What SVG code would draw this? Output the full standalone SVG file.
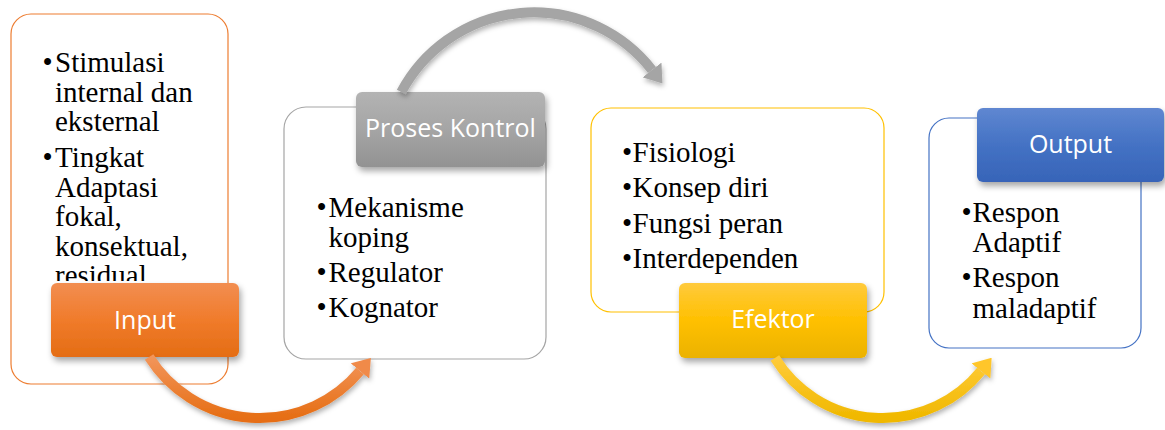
<svg xmlns="http://www.w3.org/2000/svg" width="1165" height="430" viewBox="0 0 1165 430">
  <style>
    .panel { fill: #FFFFFF; stroke-width: 1.2; }
    .body { font-family: "Liberation Serif", "Times New Roman", serif; font-size: 29px; fill: #000000; }
    .lbl { font-family: "Open Sans", "Liberation Sans", sans-serif; font-size: 25px; fill: #FFFFFF; text-anchor: middle; }
    .arc { fill: none; stroke-width: 10; }
  </style>
  <defs>
    <filter id="shadow" x="-20%" y="-20%" width="150%" height="160%">
      <feDropShadow dx="2" dy="4" stdDeviation="3" flood-color="#000000" flood-opacity="0.35"/>
    </filter>
    <filter id="ashadow" x="-20%" y="-20%" width="150%" height="160%">
      <feDropShadow dx="1" dy="3" stdDeviation="2.5" flood-color="#000000" flood-opacity="0.3"/>
    </filter>
    <linearGradient id="gOrange" x1="0" y1="0" x2="0" y2="1">
      <stop offset="0" stop-color="#F28E51"/>
      <stop offset="0.5" stop-color="#F07B2B"/>
      <stop offset="1" stop-color="#E46D14"/>
    </linearGradient>
    <linearGradient id="gGray" x1="0" y1="0" x2="0" y2="1">
      <stop offset="0" stop-color="#B3B3B3"/>
      <stop offset="0.5" stop-color="#A5A5A5"/>
      <stop offset="1" stop-color="#929292"/>
    </linearGradient>
    <linearGradient id="gYellow" x1="0" y1="0" x2="0" y2="1">
      <stop offset="0" stop-color="#FFCA3C"/>
      <stop offset="0.5" stop-color="#FFC000"/>
      <stop offset="1" stop-color="#EBB200"/>
    </linearGradient>
    <linearGradient id="gBlue" x1="0" y1="0" x2="0" y2="1">
      <stop offset="0" stop-color="#5F87D1"/>
      <stop offset="0.5" stop-color="#4472C4"/>
      <stop offset="1" stop-color="#3764B8"/>
    </linearGradient>
    <linearGradient id="aOrange" x1="0" y1="0" x2="0" y2="1">
      <stop offset="0" stop-color="#F2955A"/>
      <stop offset="1" stop-color="#E66E14"/>
    </linearGradient>
    <linearGradient id="aYellow" x1="0" y1="0" x2="0" y2="1">
      <stop offset="0" stop-color="#FFCB3A"/>
      <stop offset="1" stop-color="#F0B800"/>
    </linearGradient>
    <marker id="mOrange" markerUnits="userSpaceOnUse" markerWidth="17" markerHeight="24" viewBox="0 0 17 24" refX="0" refY="12" orient="auto">
      <path d="M0,0 L17,12 L0,24 Z" fill="#F08A49"/>
    </marker>
    <marker id="mGray" markerUnits="userSpaceOnUse" markerWidth="17" markerHeight="24" viewBox="0 0 17 24" refX="0" refY="12" orient="auto">
      <path d="M0,0 L17,12 L0,24 Z" fill="#A5A5A5"/>
    </marker>
    <marker id="mYellow" markerUnits="userSpaceOnUse" markerWidth="17" markerHeight="24" viewBox="0 0 17 24" refX="0" refY="12" orient="auto">
      <path d="M0,0 L17,12 L0,24 Z" fill="#FFC62A"/>
    </marker>
    <clipPath id="clipInput">
      <rect x="11" y="14" width="217" height="267"/>
    </clipPath>
  </defs>

  <!-- Input -->
  <g id="node-input">
    <rect class="panel" x="11" y="14" width="217" height="370" rx="20" stroke="#ED7D31"/>
    <g clip-path="url(#clipInput)">
      <text class="body" x="42.5" y="72">•</text>
      <text class="body" x="55" y="72">Stimulasi</text>
      <text class="body" x="55" y="101.5">internal dan</text>
      <text class="body" x="55" y="131">eksternal</text>
      <text class="body" x="42.5" y="167">•</text>
      <text class="body" x="55" y="167">Tingkat</text>
      <text class="body" x="55" y="196.5">Adaptasi</text>
      <text class="body" x="55" y="226">fokal,</text>
      <text class="body" x="55" y="255.5">konsektual,</text>
      <text class="body" x="55" y="285">residual</text>
    </g>
    <rect x="51" y="283" width="188" height="74" rx="6" fill="url(#gOrange)" filter="url(#shadow)"/>
    <text class="lbl" x="145" y="329">Input</text>
  </g>

  <!-- Proses Kontrol -->
  <g id="node-proses">
    <rect class="panel" x="284" y="107" width="262" height="252" rx="22" stroke="#A5A5A5"/>
    <rect x="356" y="92" width="189" height="75" rx="6" fill="url(#gGray)" filter="url(#shadow)"/>
    <text class="lbl" x="450.5" y="137">Proses Kontrol</text>
    <text class="body" x="316.5" y="217">•</text>
    <text class="body" x="328.5" y="217">Mekanisme</text>
    <text class="body" x="328.5" y="247">koping</text>
    <text class="body" x="316.5" y="282">•</text>
    <text class="body" x="328.5" y="282">Regulator</text>
    <text class="body" x="316.5" y="317">•</text>
    <text class="body" x="328.5" y="317">Kognator</text>
  </g>

  <!-- Efektor -->
  <g id="node-efektor">
    <rect class="panel" x="591" y="108" width="293" height="204" rx="20" stroke="#FFC000"/>
    <text class="body" x="622" y="162">•</text>
    <text class="body" x="632.5" y="162">Fisiologi</text>
    <text class="body" x="622" y="197">•</text>
    <text class="body" x="632.5" y="197">Konsep diri</text>
    <text class="body" x="622" y="233">•</text>
    <text class="body" x="632.5" y="233">Fungsi peran</text>
    <text class="body" x="622" y="268">•</text>
    <text class="body" x="632.5" y="268">Interdependen</text>
    <rect x="679" y="283" width="188" height="75" rx="6" fill="url(#gYellow)" filter="url(#shadow)"/>
    <text class="lbl" x="773" y="328">Efektor</text>
  </g>

  <!-- Output -->
  <g id="node-output">
    <rect class="panel" x="929" y="118" width="212" height="230" rx="20" stroke="#4472C4"/>
    <rect x="977" y="108" width="187" height="74" rx="6" fill="url(#gBlue)" filter="url(#shadow)"/>
    <text class="lbl" x="1070.5" y="153">Output</text>
    <text class="body" x="961.5" y="222">•</text>
    <text class="body" x="972.5" y="222">Respon</text>
    <text class="body" x="972.5" y="252">Adaptif</text>
    <text class="body" x="961.5" y="287">•</text>
    <text class="body" x="972.5" y="287">Respon</text>
    <text class="body" x="972.5" y="318">maladaptif</text>
  </g>

  <!-- connectors -->
  <g id="connectors" filter="url(#ashadow)">
    <path class="arc" d="M149.1,357 A130.5,130.5 0 0 0 360,371" stroke="url(#aOrange)" marker-end="url(#mOrange)"/>
    <path class="arc" d="M401.3,92 A150,150 0 0 1 652,70" stroke="#A5A5A5" marker-end="url(#mGray)"/>
    <path class="arc" d="M774.9,358 A126.5,126.5 0 0 0 981,371" stroke="url(#aYellow)" marker-end="url(#mYellow)"/>
  </g>
</svg>
